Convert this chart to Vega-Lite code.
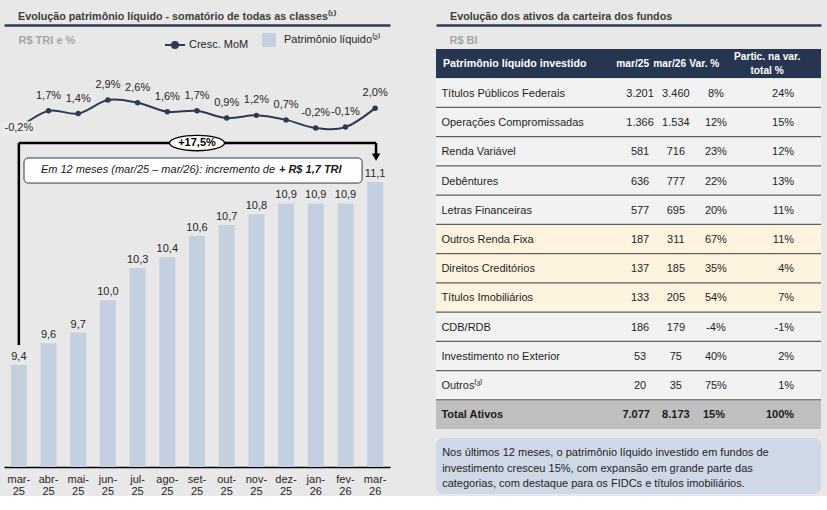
{
  "$schema": "https://vega.github.io/schema/vega-lite/v6.json",
  "background": "#e8e8e8",
  "padding": {"left": 3, "top": 11, "right": 8, "bottom": 0},
  "config": {
    "font": "Liberation Sans",
    "view": {"stroke": null},
    "locale": {"number": {"decimal": ",", "thousands": ".", "grouping": [3], "currency": ["R$ ", ""], "minus": "-"}},
    "title": {"fontSize": 10.75, "fontWeight": "bold", "color": "#3d3d3d", "anchor": "start", "frame": "group", "dx": 14, "offset": 2},
    "text": {"fontSize": 11, "color": "#262626"},
    "legend": {"labelFontSize": 11, "labelColor": "#262626", "padding": 0}
  },
  "datasets": {
    "mensal": [
      {"mes": "mar-25", "pl": 9.4, "mom": -0.002},
      {"mes": "abr-25", "pl": 9.6, "mom": 0.017},
      {"mes": "mai-25", "pl": 9.7, "mom": 0.014},
      {"mes": "jun-25", "pl": 10.0, "mom": 0.029},
      {"mes": "jul-25", "pl": 10.3, "mom": 0.026},
      {"mes": "ago-25", "pl": 10.4, "mom": 0.016},
      {"mes": "set-25", "pl": 10.6, "mom": 0.017},
      {"mes": "out-25", "pl": 10.7, "mom": 0.009},
      {"mes": "nov-25", "pl": 10.8, "mom": 0.012},
      {"mes": "dez-25", "pl": 10.9, "mom": 0.007},
      {"mes": "jan-26", "pl": 10.9, "mom": -0.002},
      {"mes": "fev-26", "pl": 10.9, "mom": -0.001},
      {"mes": "mar-26", "pl": 11.1, "mom": 0.020}
    ],
    "tabela": [
      {"item": "Patrimônio líquido investido", "mar25": "mar/25", "mar26": "mar/26", "var": "Var. %", "part": "Partic. na var.\ntotal %", "grupo": "cabeçalho"},
      {"item": "Títulos Públicos Federais", "mar25": "3.201", "mar26": "3.460", "var": "8%", "part": "24%", "grupo": "base"},
      {"item": "Operações Compromissadas", "mar25": "1.366", "mar26": "1.534", "var": "12%", "part": "15%", "grupo": "base"},
      {"item": "Renda Variável", "mar25": "581", "mar26": "716", "var": "23%", "part": "12%", "grupo": "base"},
      {"item": "Debêntures", "mar25": "636", "mar26": "777", "var": "22%", "part": "13%", "grupo": "base"},
      {"item": "Letras Financeiras", "mar25": "577", "mar26": "695", "var": "20%", "part": "11%", "grupo": "base"},
      {"item": "Outros Renda Fixa", "mar25": "187", "mar26": "311", "var": "67%", "part": "11%", "grupo": "destaque"},
      {"item": "Direitos Creditórios", "mar25": "137", "mar26": "185", "var": "35%", "part": "4%", "grupo": "destaque"},
      {"item": "Títulos Imobiliários", "mar25": "133", "mar26": "205", "var": "54%", "part": "7%", "grupo": "destaque"},
      {"item": "CDB/RDB", "mar25": "186", "mar26": "179", "var": "-4%", "part": "-1%", "grupo": "base"},
      {"item": "Investimento no Exterior", "mar25": "53", "mar26": "75", "var": "40%", "part": "2%", "grupo": "base"},
      {"item": "Outros⁽³⁾", "mar25": "20", "mar26": "35", "var": "75%", "part": "1%", "grupo": "base"},
      {"item": "Total Ativos", "mar25": "7.077", "mar26": "8.173", "var": "15%", "part": "100%", "grupo": "total"}
    ]
  },
  "spacing": 45,
  "resolve": {"scale": {"fill": "independent", "stroke": "independent"}, "legend": {"fill": "independent", "stroke": "independent"}},
  "hconcat": [
    {
      "width": 386,
      "height": 418,
      "title": {"text": "Evolução patrimônio líquido - somatório de todas as classes⁽¹⁾"},
      "resolve": {"scale": {"x": "independent", "y": "independent"}},
      "layer": [
        {
          "data": {"name": "mensal"},
          "resolve": {"scale": {"y": "independent"}},
          "layer": [
            {
              "layer": [
                {
                  "mark": {"type": "bar"},
                  "encoding": {
                    "x": {
                      "field": "mes", "type": "nominal", "sort": null,
                      "scale": {"domain": ["mar-25", "abr-25", "mai-25", "jun-25", "jul-25", "ago-25", "set-25", "out-25", "nov-25", "dez-25", "jan-26", "fev-26", "mar-26"], "paddingInner": 0.46},
                      "axis": {"orient": "bottom", "title": null, "ticks": false, "grid": false, "labelAngle": 0, "labelFontSize": 11, "labelColor": "#262626", "labelPadding": 6, "labelLineHeight": 12, "labelBaseline": "top", "domainColor": "#000000", "domainWidth": 1.5, "labelExpr": "[split(datum.label, '-')[0] + '-', split(datum.label, '-')[1]]"}
                    },
                    "y": {"field": "pl", "type": "quantitative", "scale": {"domain": [8.45, 12.335], "nice": false, "zero": false}, "axis": null},
                    "y2": {"datum": 8.45},
                    "fill": {
                      "datum": "Patrimônio líquido⁽²⁾", "type": "nominal",
                      "scale": {"range": ["#c4cfe0"]},
                      "legend": {"title": null, "orient": "none", "legendX": 258, "legendY": -16, "symbolType": "square", "symbolSize": 196, "symbolStrokeWidth": 0, "labelOffset": 8}
                    }
                  }
                },
                {
                  "mark": {"type": "text", "baseline": "bottom", "dy": -3},
                  "encoding": {
                    "x": {"field": "mes", "type": "nominal", "sort": null},
                    "y": {"field": "pl", "type": "quantitative", "axis": null},
                    "text": {"field": "pl", "type": "quantitative", "format": ".1f"}
                  }
                }
              ]
            },
            {
              "layer": [
                {
                  "mark": {"type": "line", "interpolate": "cardinal", "strokeWidth": 2},
                  "encoding": {
                    "x": {"field": "mes", "type": "nominal", "sort": null},
                    "y": {"field": "mom", "type": "quantitative", "scale": {"domain": [-0.3774, 0.0855], "nice": false, "zero": false}, "axis": null},
                    "stroke": {
                      "datum": "Cresc. MoM", "type": "nominal",
                      "scale": {"range": ["#2c3a54"]},
                      "legend": {"title": null, "orient": "none", "legendX": 160, "legendY": -15, "symbolType": "M-1,0L1,0M-0.3,0C-0.3,-0.1657 -0.1657,-0.3 0,-0.3C0.1657,-0.3 0.3,-0.1657 0.3,0C0.3,0.1657 0.1657,0.3 0,0.3C-0.1657,0.3 -0.3,0.1657 -0.3,0Z", "symbolSize": 400, "symbolFillColor": "#2c3a54", "symbolStrokeWidth": 2, "labelOffset": 3}
                    }
                  }
                },
                {
                  "mark": {"type": "point", "filled": true, "size": 30, "color": "#2c3a54", "opacity": 1},
                  "encoding": {
                    "x": {"field": "mes", "type": "nominal", "sort": null},
                    "y": {"field": "mom", "type": "quantitative", "axis": null}
                  }
                },
                {
                  "transform": [{"filter": "datum.mes === 'mar-25'"}],
                  "mark": {"type": "point", "shape": "M-1,-0.42L1,-0.42L1,0.42L-1,0.42Z", "size": 1000, "filled": true, "color": "#ececec", "opacity": 1},
                  "encoding": {
                    "x": {"field": "mes", "type": "nominal", "sort": null},
                    "y": {"field": "mom", "type": "quantitative", "axis": null}
                  }
                },
                {
                  "transform": [{"filter": "datum.mes !== 'mar-25'"}],
                  "mark": {"type": "text", "baseline": "middle", "dy": -15},
                  "encoding": {
                    "x": {"field": "mes", "type": "nominal", "sort": null},
                    "y": {"field": "mom", "type": "quantitative", "axis": null},
                    "text": {"field": "mom", "type": "quantitative", "format": ".1%"}
                  }
                },
                {
                  "transform": [{"filter": "datum.mes === 'mar-25'"}],
                  "mark": {"type": "text", "baseline": "middle"},
                  "encoding": {
                    "x": {"field": "mes", "type": "nominal", "sort": null},
                    "y": {"field": "mom", "type": "quantitative", "axis": null},
                    "text": {"field": "mom", "type": "quantitative", "format": ".1%"}
                  }
                }
              ]
            }
          ]
        },
        {
          "data": {"values": [{}]},
          "layer": [
            {
              "mark": {"type": "rule", "color": "#000000", "strokeWidth": 2.5},
              "encoding": {
                "x": {
                  "datum": 0.5, "type": "quantitative",
                  "scale": {"domain": [0, 13], "nice": false, "zero": false},
                  "axis": {"orient": "top", "offset": 24, "labels": false, "ticks": false, "grid": false, "domainColor": "#2f3d56", "domainWidth": 2.5, "title": "R$ TRI e %", "titleX": 14, "titleY": 15, "titleAlign": "left", "titleBaseline": "middle", "titleAngle": 0, "titleFontSize": 11, "titleFontWeight": "bold", "titleColor": "#a6a6a6"}
                },
                "x2": {"datum": 12.53},
                "y": {"datum": 11.461, "type": "quantitative", "scale": {"domain": [8.45, 12.335], "nice": false, "zero": false}, "axis": null}
              }
            },
            {
              "mark": {"type": "rule", "color": "#000000", "strokeWidth": 2.5},
              "encoding": {
                "x": {"datum": 0.5, "type": "quantitative"},
                "y": {"datum": 9.584, "type": "quantitative", "axis": null},
                "y2": {"datum": 11.461}
              }
            },
            {
              "mark": {"type": "rule", "color": "#000000", "strokeWidth": 2.5},
              "encoding": {
                "x": {"datum": 12.53, "type": "quantitative"},
                "y": {"datum": 11.461, "type": "quantitative", "axis": null},
                "y2": {"datum": 11.36}
              }
            },
            {
              "mark": {"type": "point", "shape": "triangle-down", "size": 70, "filled": true, "color": "#000000", "opacity": 1},
              "encoding": {
                "x": {"datum": 12.53, "type": "quantitative"},
                "y": {"datum": 11.33, "type": "quantitative", "axis": null}
              }
            },
            {
              "mark": {"type": "point", "shape": "M-1,0C-1,-0.1546 -0.5523,-0.28 0,-0.28C0.5523,-0.28 1,-0.1546 1,0C1,0.1546 0.5523,0.28 0,0.28C-0.5523,0.28 -1,0.1546 -1,0Z", "size": 3025, "filled": true, "fill": "#ffffff", "stroke": "#000000", "strokeWidth": 1.3, "opacity": 1},
              "encoding": {
                "x": {"datum": 6.5, "type": "quantitative"},
                "y": {"datum": 11.461, "type": "quantitative", "axis": null}
              }
            },
            {
              "mark": {"type": "text", "fontWeight": "bold", "color": "#000000", "baseline": "middle"},
              "encoding": {
                "x": {"datum": 6.5, "type": "quantitative"},
                "y": {"datum": 11.461, "type": "quantitative", "axis": null},
                "text": {"value": "+17,5%"}
              }
            },
            {
              "mark": {"type": "rect", "fill": "#ffffff", "stroke": "#2c3a54", "strokeWidth": 1, "cornerRadius": 4},
              "encoding": {
                "x": {"datum": 0.674, "type": "quantitative"},
                "x2": {"datum": 12.06},
                "y": {"datum": 11.322, "type": "quantitative", "axis": null},
                "y2": {"datum": 11.089}
              }
            },
            {
              "mark": {"type": "text", "fontStyle": "italic", "align": "right", "baseline": "middle", "color": "#1a1a1a"},
              "encoding": {
                "x": {"datum": 9.13, "type": "quantitative"},
                "y": {"datum": 11.206, "type": "quantitative", "axis": null},
                "text": {"value": "Em 12 meses (mar/25 – mar/26): incremento de"}
              }
            },
            {
              "mark": {"type": "text", "fontStyle": "italic", "fontWeight": "bold", "align": "left", "baseline": "middle", "color": "#1a1a1a"},
              "encoding": {
                "x": {"datum": 9.26, "type": "quantitative"},
                "y": {"datum": 11.206, "type": "quantitative", "axis": null},
                "text": {"value": "+ R$ 1,7 TRI"}
              }
            }
          ]
        }
      ]
    },
    {
      "spacing": 9,
      "vconcat": [
        {
          "width": 385,
          "height": 380,
          "title": {"text": "Evolução dos ativos da carteira dos fundos"},
          "data": {"name": "tabela"},
          "encoding": {
            "y": {
              "field": "item", "type": "nominal", "sort": null,
              "scale": {"domain": ["Patrimônio líquido investido", "Títulos Públicos Federais", "Operações Compromissadas", "Renda Variável", "Debêntures", "Letras Financeiras", "Outros Renda Fixa", "Direitos Creditórios", "Títulos Imobiliários", "CDB/RDB", "Investimento no Exterior", "Outros⁽³⁾", "Total Ativos"], "paddingInner": 0, "paddingOuter": 0},
              "axis": null
            }
          },
          "layer": [
            {
              "mark": {"type": "bar"},
              "encoding": {
                "x": {
                  "datum": 0, "type": "quantitative",
                  "scale": {"domain": [0, 100], "nice": false, "zero": false},
                  "axis": {"orient": "top", "offset": 24, "labels": false, "ticks": false, "grid": false, "domainColor": "#2f3d56", "domainWidth": 2.5, "title": "R$ BI", "titleX": 13, "titleY": 15, "titleAlign": "left", "titleBaseline": "middle", "titleFontSize": 11, "titleFontWeight": "bold", "titleColor": "#a6a6a6"}
                },
                "x2": {"datum": 100},
                "fill": {"field": "grupo", "type": "nominal", "scale": {"domain": ["cabeçalho", "base", "destaque", "total"], "range": ["#263650", "#f2f2f2", "#fdf3df", "#bfbfbf"]}, "legend": null}
              }
            },
            {
              "transform": [{"filter": "datum.grupo === 'base' || datum.grupo === 'destaque'"}],
              "mark": {"type": "rule", "color": "#5f5f5f", "strokeWidth": 1.2},
              "encoding": {
                "y": {"field": "item", "type": "nominal", "sort": null, "bandPosition": 1, "axis": null}
              }
            },
            {
              "transform": [{"filter": "datum.grupo === 'cabeçalho'"}],
              "layer": [
                {"mark": {"type": "text", "align": "left", "fontWeight": "bold", "fontSize": 10.7, "color": "#ffffff"}, "encoding": {"x": {"datum": 1.8, "type": "quantitative"}, "text": {"field": "item"}}},
                {"mark": {"type": "text", "align": "center", "fontWeight": "bold", "fontSize": 10.2, "color": "#ffffff"}, "encoding": {"x": {"datum": 51.1, "type": "quantitative"}, "text": {"field": "mar25"}}},
                {"mark": {"type": "text", "align": "center", "fontWeight": "bold", "fontSize": 10.2, "color": "#ffffff"}, "encoding": {"x": {"datum": 60.7, "type": "quantitative"}, "text": {"field": "mar26"}}},
                {"mark": {"type": "text", "align": "center", "fontWeight": "bold", "fontSize": 10.2, "color": "#ffffff"}, "encoding": {"x": {"datum": 69.7, "type": "quantitative"}, "text": {"field": "var"}}},
                {"mark": {"type": "text", "align": "center", "fontWeight": "bold", "fontSize": 10.2, "color": "#ffffff", "lineBreak": "\n", "lineHeight": 14, "dy": -6.5}, "encoding": {"x": {"datum": 86.0, "type": "quantitative"}, "text": {"field": "part"}}}
              ]
            },
            {
              "transform": [{"filter": "datum.grupo === 'base' || datum.grupo === 'destaque'"}],
              "layer": [
                {"mark": {"type": "text", "align": "left", "color": "#1f1f1f", "dy": 1}, "encoding": {"x": {"datum": 1.4, "type": "quantitative"}, "text": {"field": "item"}}},
                {"mark": {"type": "text", "align": "center", "color": "#1f1f1f", "dy": 1}, "encoding": {"x": {"datum": 53.0, "type": "quantitative"}, "text": {"field": "mar25"}}},
                {"mark": {"type": "text", "align": "center", "color": "#1f1f1f", "dy": 1}, "encoding": {"x": {"datum": 62.3, "type": "quantitative"}, "text": {"field": "mar26"}}},
                {"mark": {"type": "text", "align": "center", "color": "#1f1f1f", "dy": 1}, "encoding": {"x": {"datum": 72.7, "type": "quantitative"}, "text": {"field": "var"}}},
                {"mark": {"type": "text", "align": "right", "color": "#1f1f1f", "dy": 1}, "encoding": {"x": {"datum": 93.0, "type": "quantitative"}, "text": {"field": "part"}}}
              ]
            },
            {
              "transform": [{"filter": "datum.grupo === 'total'"}],
              "layer": [
                {"mark": {"type": "text", "align": "left", "fontWeight": "bold", "color": "#1a1a1a", "dy": 1}, "encoding": {"x": {"datum": 1.4, "type": "quantitative"}, "text": {"field": "item"}}},
                {"mark": {"type": "text", "align": "center", "fontWeight": "bold", "color": "#1a1a1a", "dy": 1}, "encoding": {"x": {"datum": 52.0, "type": "quantitative"}, "text": {"field": "mar25"}}},
                {"mark": {"type": "text", "align": "center", "fontWeight": "bold", "color": "#1a1a1a", "dy": 1}, "encoding": {"x": {"datum": 62.3, "type": "quantitative"}, "text": {"field": "mar26"}}},
                {"mark": {"type": "text", "align": "center", "fontWeight": "bold", "color": "#1a1a1a", "dy": 1}, "encoding": {"x": {"datum": 72.2, "type": "quantitative"}, "text": {"field": "var"}}},
                {"mark": {"type": "text", "align": "right", "fontWeight": "bold", "color": "#1a1a1a", "dy": 1}, "encoding": {"x": {"datum": 93.0, "type": "quantitative"}, "text": {"field": "part"}}}
              ]
            }
          ]
        },
        {
          "width": 385,
          "height": 56,
          "view": {"fill": "#cfd8e6", "cornerRadius": 7, "stroke": null},
          "data": {"values": [{"nota": "Nos últimos 12 meses, o patrimônio líquido investido em fundos de\ninvestimento cresceu 15%, com expansão em grande parte das\ncategorias, com destaque para os FIDCs e títulos imobiliários."}]},
          "mark": {"type": "text", "align": "left", "baseline": "middle", "lineBreak": "\n", "lineHeight": 15.5, "dy": -13, "color": "#1f1f1f"},
          "encoding": {
            "x": {"datum": 1.6, "type": "quantitative", "scale": {"domain": [0, 100], "nice": false, "zero": false}, "axis": null},
            "text": {"field": "nota"}
          }
        }
      ]
    }
  ]
}
